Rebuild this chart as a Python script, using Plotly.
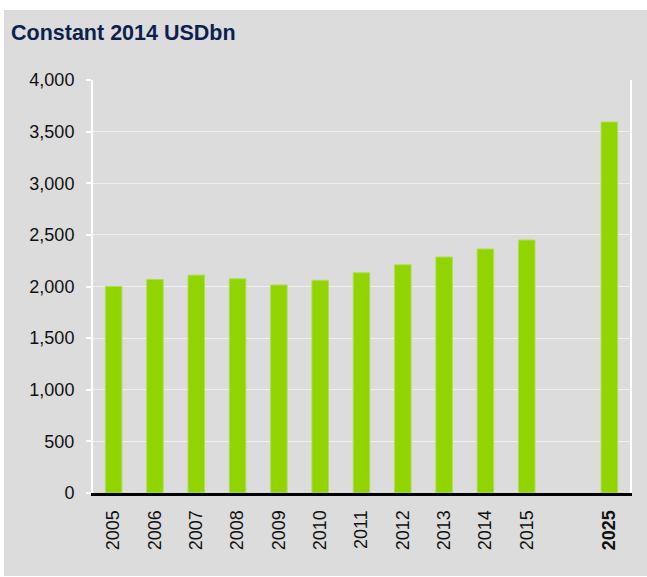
import plotly.graph_objects as go

years = ["2005", "2006", "2007", "2008", "2009", "2010", "2011", "2012", "2013", "2014", "2015", "2025"]
values = [2000, 2068, 2110, 2075, 2015, 2060, 2133, 2210, 2285, 2363, 2450, 3593]
category_order = years[:11] + ["gap"] + years[11:]
tick_labels = years[:11] + ["<b>2025</b>"]

W, H = 647, 577
L, R, T, B = 93, 17, 80, 84
pw, ph = W - L - R, H - T - B

def px_to_paper_x(px):
    return (px - L) / pw

def px_to_paper_y(py):
    return (H - B - py) / ph

FONT = "Arial, Liberation Sans, sans-serif"

fig = go.Figure()
fig.add_trace(go.Bar(
    x=years, y=values,
    marker=dict(color="#92d400", line=dict(color="#aedd5a", width=1)),
    hoverinfo="x+y",
))

fig.update_layout(
    width=W, height=H,
    margin=dict(l=L, r=R, t=T, b=B, pad=0),
    paper_bgcolor="white",
    plot_bgcolor="#dcdcdc",
    bargap=0.6,
    showlegend=False,
    font=dict(family=FONT, size=18, color="#111111"),
    title=dict(
        text="<b>Constant 2014 USDbn</b>",
        x=11 / W, xanchor="left", xref="container",
        y=1 - 32 / H, yanchor="middle", yref="container",
        font=dict(family=FONT, size=21.5, color="#0d1f4f"),
    ),
    shapes=[dict(
        type="rect", xref="paper", yref="paper", layer="below",
        x0=px_to_paper_x(4), x1=px_to_paper_x(W + 2),
        y0=px_to_paper_y(576), y1=px_to_paper_y(10),
        fillcolor="#dcdcdc", line=dict(width=0),
    )],
)

fig.update_xaxes(
    type="category",
    categoryorder="array", categoryarray=category_order,
    tickvals=years, ticktext=tick_labels,
    range=[-0.5, 12.5],
    tickangle=-90,
    showline=True, linecolor="black", linewidth=3,
    ticks="", showgrid=False,
    ticklabelstandoff=7,
    tickfont=dict(family=FONT, size=18, color="#111111"),
)
fig.update_yaxes(
    range=[0, 4000], dtick=500, tickformat=",",
    showgrid=True, gridcolor="#efefef", gridwidth=1,
    showline=True, linecolor="white", linewidth=2, mirror=True,
    ticks="outside", ticklen=5, tickcolor="white", tickwidth=2,
    zeroline=False,
    ticklabelstandoff=8,
    tickfont=dict(family=FONT, size=18, color="#111111"),
)

fig.write_html(
    "out.html",
    config={"displayModeBar": False},
    post_script="document.body.style.margin='0';document.body.style.overflow='hidden';",
)
